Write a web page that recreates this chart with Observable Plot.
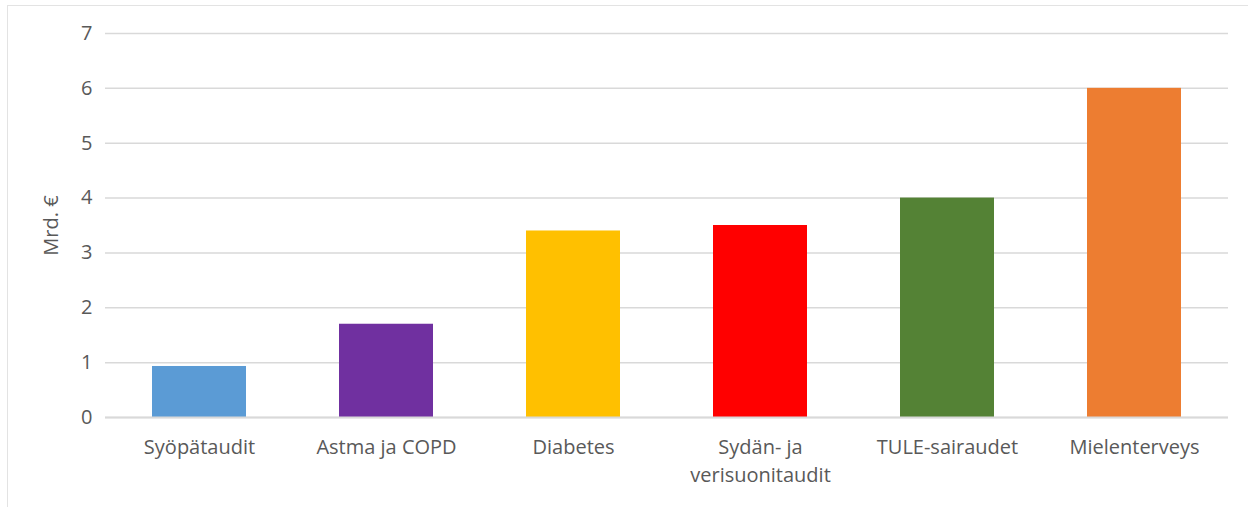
<!DOCTYPE html>
<html>
<head>
<meta charset="utf-8">
<script src="https://cdn.jsdelivr.net/npm/d3@7"></script>
<script src="https://cdn.jsdelivr.net/npm/@observablehq/plot@0.6"></script>
<style>
  html, body { margin: 0; padding: 0; background: #fff; }
  #wrap { position: relative; width: 1248px; height: 507px; overflow: hidden; }
  #frame { position: absolute; left: 7px; top: 5px; right: -2px; bottom: -2px; border-top: 1.5px solid #e3e3e3; border-left: 1.5px solid #e3e3e3; }
  #chart { position: absolute; left: 0; top: 0; }
</style>
</head>
<body>
<div id="wrap"><div id="frame"></div><div id="chart"></div></div>
<script>
const categories = ["Syöpätaudit", "Astma ja COPD", "Diabetes", "Sydän- ja\nverisuonitaudit", "TULE-sairaudet", "Mielenterveys"];
const values = [0.93, 1.7, 3.4, 3.5, 4.0, 6.0];
const colors = ["#5B9BD5", "#7030A0", "#FFC000", "#FF0000", "#548235", "#ED7D31"];
const yTicks = [0, 1, 2, 3, 4, 5, 6, 7];
const yLabel = "Mrd. €";

const data = categories.map((c, i) => ({category: c, value: values[i], color: colors[i]}));

const chart = Plot.plot({
  width: 1248,
  height: 507,
  marginLeft: 105,
  marginRight: 20,
  marginTop: 33,
  marginBottom: 90,
  style: {fontFamily: "'Open Sans', sans-serif", fontSize: "18px", color: "#595959", background: "transparent"},
  x: {domain: categories, paddingInner: 0.5, paddingOuter: 0.25},
  y: {domain: [0, 7]},
  marks: [
    Plot.gridY(yTicks, {stroke: "#d9d9d9", strokeOpacity: 1, strokeWidth: 1.5}),
    Plot.barY(data, {x: "category", y: "value", fill: "color"}),
    Plot.ruleY([0], {stroke: "#d9d9d9", strokeWidth: 2}),
    Plot.axisY(yTicks, {tickSize: 0, tickPadding: 13, fontSize: 20, fill: "#595959", tickFormat: d => String(d), label: null}),
    Plot.axisY({ticks: [], label: yLabel, labelAnchor: "center", labelArrow: "none", labelOffset: 62, fontSize: 20, fill: "#595959", tickSize: 0}),
    Plot.axisX({tickSize: 0, tickPadding: 17, fontSize: 20, fill: "#595959", label: null, lineHeight: 1.4})
  ]
});
document.getElementById("chart").appendChild(chart);
</script>
</body>
</html>
